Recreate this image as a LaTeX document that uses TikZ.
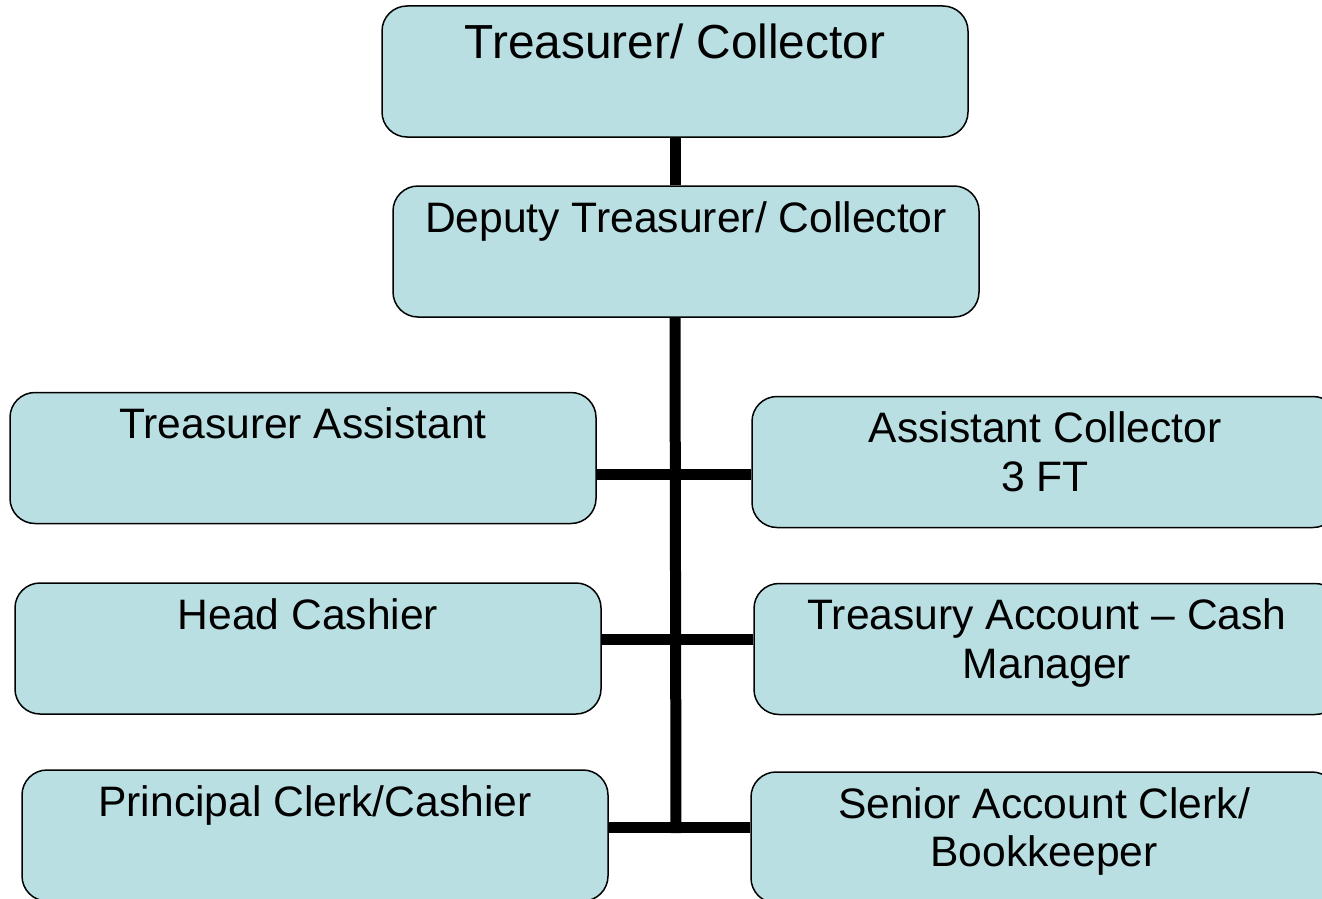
\documentclass[tikz,border=0pt]{standalone}
\usepackage{fontspec}
\setmainfont{Liberation Sans}
\definecolor{boxfill}{RGB}{185,223,227}
% box body: text hangs from the top, first baseline set by the strut
\newcommand{\boxtext}[2][46pt]{\parbox[c][131pt][t]{586pt}{\centering\rule{0pt}{#1}#2}}

\begin{document}
\begin{tikzpicture}[x=1pt, y=-1pt,
    position/.style ={draw=black, line width=1.5pt, rounded corners=25pt,
      fill=boxfill, inner sep=0pt, font=\fontsize{42.6}{48.5}\selectfont},
    link/.style ={line width=11pt}]
   \clip (0,0) rectangle (1322,899);

   \node[position] (TC)  at (675,71.5)  {\boxtext[52pt]{\fontsize{47.8}{52}\selectfont Treasurer/ Collector}};
   \node[position] (DTC) at (686,251.5) {\boxtext{Deputy Treasurer/ Collector}};
   \node[position] (TA)  at (303,458)   {\boxtext{Treasurer Assistant}};
   \node[position] (HC)  at (308,648.5) {\boxtext{Head Cashier}};
   \node[position] (PC)  at (315,835.5) {\boxtext{Principal Clerk/Cashier}};
   \node[position] (AC)  at (1045,462)  {\boxtext{Assistant Collector\\3 FT}};
   \node[position] (TAC) at (1047,649)  {\boxtext{Treasury Account -- Cash\\Manager}};
   \node[position] (SAC) at (1044,837.5) {\boxtext{Senior Account Clerk/\\Bookkeeper}};

   % junctions on the trunk
   \coordinate (j1) at (676,474.5);
   \coordinate (j2) at (676,639);
   \coordinate (j3) at (676,827.5);
   \coordinate (trunkend) at (676,833);

   \draw[link] (TC.south) to (TC.south |- DTC.north);
   \draw[link] (TC.south |- DTC.south) to (trunkend);
   \draw[link] (TA.east |- j1) to (AC.west |- j1);
   \draw[link] (HC.east |- j2) to (TAC.west |- j2);
   \draw[link] (PC.east |- j3) to (SAC.west |- j3);
 \end{tikzpicture}
\end{document}
